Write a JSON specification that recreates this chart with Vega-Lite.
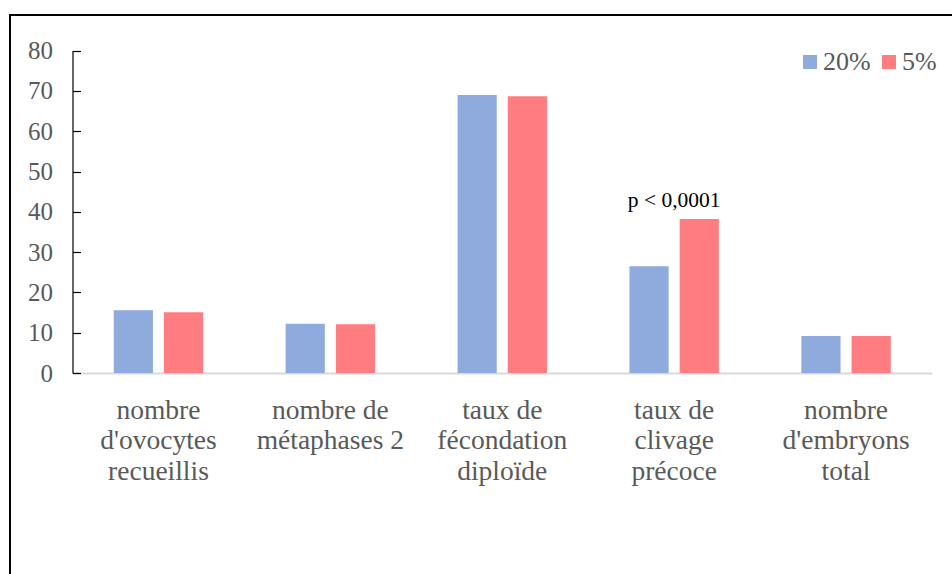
{
  "$schema": "https://vega.github.io/schema/vega-lite/v6.json",
  "width": 944,
  "height": 561,
  "autosize": {"type": "none"},
  "padding": {"left": 10, "top": 15, "right": 0, "bottom": 0},
  "background": "white",
  "config": {
    "view": {"stroke": "black", "strokeWidth": 2},
    "font": "Liberation Serif"
  },
  "datasets": {
    "bars": [
      {"cat": "nombre|d'ovocytes|recueillis", "grp": "20%", "val": 15.6},
      {"cat": "nombre|d'ovocytes|recueillis", "grp": "5%", "val": 15.1},
      {"cat": "nombre de|métaphases 2", "grp": "20%", "val": 12.2},
      {"cat": "nombre de|métaphases 2", "grp": "5%", "val": 12.1},
      {"cat": "taux de|fécondation|diploïde", "grp": "20%", "val": 69.0},
      {"cat": "taux de|fécondation|diploïde", "grp": "5%", "val": 68.7},
      {"cat": "taux de|clivage|précoce", "grp": "20%", "val": 26.5},
      {"cat": "taux de|clivage|précoce", "grp": "5%", "val": 38.2},
      {"cat": "nombre|d'embryons|total", "grp": "20%", "val": 9.2},
      {"cat": "nombre|d'embryons|total", "grp": "5%", "val": 9.2}
    ],
    "notes": [
      {"cat": "taux de|clivage|précoce", "val": 38.2, "note": "p < 0,0001"}
    ]
  },
  "layer": [
    {
      "data": {"name": "bars"},
      "mark": {"type": "bar"},
      "encoding": {
        "x": {
          "field": "cat",
          "type": "nominal",
          "sort": null,
          "scale": {"range": [62.5, 922], "paddingInner": 0.48, "paddingOuter": 0.24},
          "axis": {
            "title": null,
            "orient": "bottom",
            "offset": -203,
            "labelAngle": 0,
            "labelExpr": "split(datum.label, '|')",
            "labelFont": "Liberation Serif",
            "labelFontSize": 27.5,
            "labelColor": "#595959",
            "labelLineHeight": 30.5,
            "labelBaseline": "alphabetic",
            "labelPadding": 45,
            "ticks": false,
            "tickSize": 0,
            "domainColor": "#d9d9d9",
            "domainWidth": 2,
            "labelLimit": 300
          }
        },
        "xOffset": {
          "field": "grp",
          "type": "nominal",
          "sort": ["20%", "5%"],
          "scale": {"paddingInner": 0.22, "paddingOuter": 0}
        },
        "y": {
          "field": "val",
          "type": "quantitative",
          "scale": {"domain": [0, 80], "range": [358, 35.6], "nice": false, "zero": true},
          "axis": {
            "title": null,
            "orient": "left",
            "offset": -62.5,
            "values": [0, 10, 20, 30, 40, 50, 60, 70, 80],
            "grid": false,
            "domainColor": "black",
            "domainWidth": 1.2,
            "tickColor": "black",
            "tickWidth": 1.2,
            "tickSize": -8,
            "labelPadding": 28,
            "labelFont": "Liberation Serif",
            "labelFontSize": 25,
            "labelColor": "#595959"
          }
        },
        "color": {
          "field": "grp",
          "type": "nominal",
          "scale": {"domain": ["20%", "5%"], "range": ["#8faadc", "#ff7c80"]},
          "legend": {
            "title": null,
            "orient": "none",
            "legendX": 787,
            "legendY": 34,
            "direction": "horizontal",
            "symbolType": "square",
            "symbolSize": 196,
            "symbolStrokeWidth": 0,
            "symbolOpacity": 1,
            "labelFont": "Liberation Serif",
            "labelFontSize": 26,
            "labelColor": "#595959",
            "labelOffset": 0,
            "columnPadding": 5,
            "padding": 0
          }
        }
      }
    },
    {
      "data": {"name": "notes"},
      "mark": {"type": "text", "font": "Liberation Serif", "fontSize": 21.5, "color": "black", "baseline": "alphabetic", "dy": -12},
      "encoding": {
        "x": {"field": "cat", "type": "nominal", "sort": null},
        "y": {"field": "val", "type": "quantitative"},
        "text": {"field": "note"}
      }
    }
  ]
}
